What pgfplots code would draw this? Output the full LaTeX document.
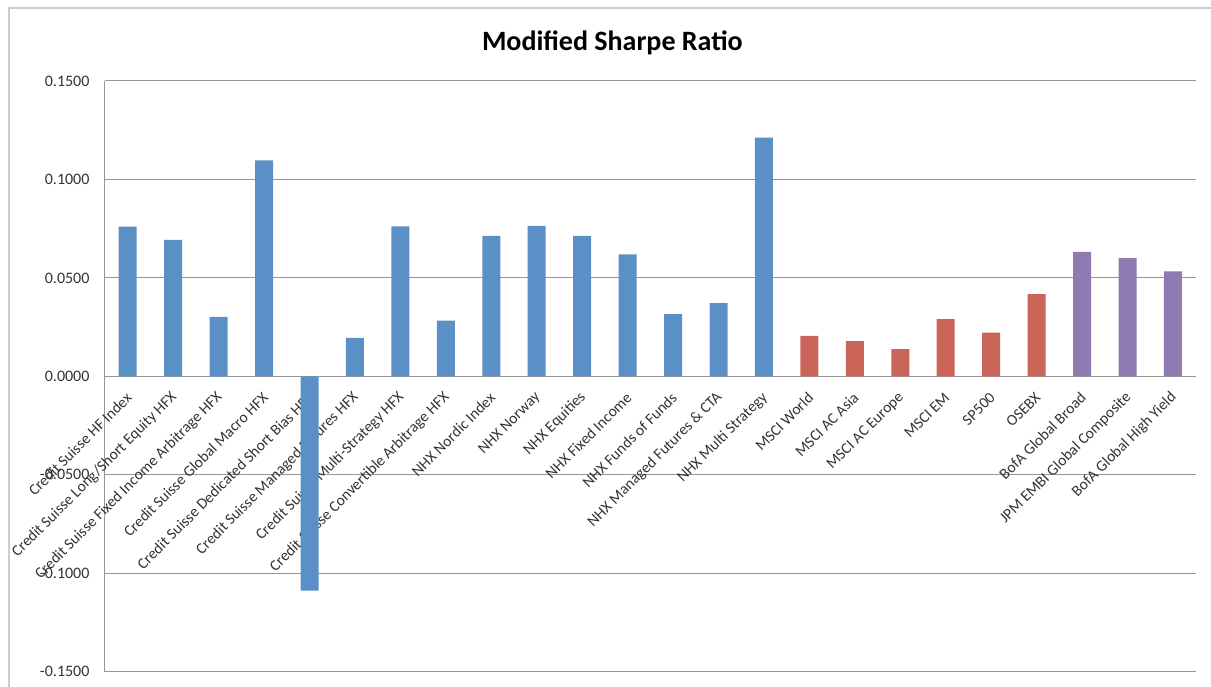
\documentclass[border=0pt]{standalone}
\usepackage{pgfplots}
\pgfplotsset{compat=1.18}
\usepackage{fontspec}
\setmainfont{Carlito}

\definecolor{barblue}{RGB}{91,144,198}
\definecolor{barred}{RGB}{203,100,89}
\definecolor{barpurple}{RGB}{143,122,178}
\definecolor{gridgray}{RGB}{150,150,150}
\definecolor{framegray}{RGB}{205,205,205}

% bars above the grid, axis lines and category names above the bars
\pgfplotsset{
  layers/bars below labels/.define layer set={
    axis background,axis grid,pre main,main,axis ticks,axis lines,
    axis tick labels,axis descriptions,axis foreground}{},
}

\begin{document}
\begin{tikzpicture}[x=1pt,y=1pt]
\begin{axis}[
  set layers=bars below labels,
  at={(0,0)}, anchor=south west,
  scale only axis, width=1090.7pt, height=590.7pt,
  xmin=-0.5, xmax=23.5,
  ymin=-0.15, ymax=0.15,
  ytick={-0.15,-0.1,-0.05,0,0.05,0.1,0.15},
  axis x line=middle, axis y line=left,
  axis line style={-, gridgray, line width=1pt},
  ymajorgrids, grid style={gridgray, line width=1pt},
  major tick length=0pt,
  ybar, bar width=18pt, bar shift=0pt,
  xtick={0,...,23},
  xticklabels={
    Credit Suisse HF Index,
    Credit Suisse Long/Short Equity HFX,
    Credit Suisse Fixed Income Arbitrage HFX,
    Credit Suisse Global Macro HFX,
    Credit Suisse Dedicated Short Bias HFX,
    Credit Suisse Managed Futures HFX,
    Credit Suisse Multi-Strategy HFX,
    Credit Suisse Convertible Arbitrage HFX,
    NHX Nordic Index,
    NHX Norway,
    NHX Equities,
    NHX Fixed Income,
    NHX Funds of Funds,
    NHX Managed Futures \& CTA,
    NHX Multi Strategy,
    MSCI World,
    MSCI AC Asia,
    MSCI AC Europe,
    MSCI EM,
    SP500,
    OSEBX,
    BofA Global Broad,
    JPM EMBI Global Composite,
    BofA Global High Yield},
  xticklabel style={xshift=2pt, yshift=-18pt, rotate=45, anchor=east, font=\fontsize{15.5}{17}\selectfont, text=black!80, inner sep=1pt},
  yticklabel style={font=\fontsize{16}{18}\selectfont, text=black!80, xshift=-12pt},
  /pgf/number format/.cd, fixed, fixed zerofill, precision=4, assume math mode=true,
  /pgfplots/.cd,
  title={\bfseries Modified Sharpe Ratio},
  title style={at={(0.5,1)}, anchor=center, xshift=-38pt, yshift=32pt, font=\fontsize{28}{32}\selectfont},
]
% hedge fund indices
\addplot[fill=barblue, draw=none] coordinates {
  (0,0.0760) (1,0.0693) (2,0.0302) (3,0.1097) (4,-0.1088) (5,0.0196)
  (6,0.0762) (7,0.0283) (8,0.0713) (9,0.0764) (10,0.0713) (11,0.0619)
  (12,0.0316) (13,0.0372) (14,0.1213)};
% equity indices
\addplot[fill=barred, draw=none] coordinates {
  (15,0.0206) (16,0.0179) (17,0.0138) (18,0.0290) (19,0.0222) (20,0.0418)};
% bond indices
\addplot[fill=barpurple, draw=none] coordinates {
  (21,0.0632) (22,0.0600) (23,0.0533)};
\end{axis}
% chart area frame
\draw[framegray, line width=2pt] (-96,-40) -- (-96,663.7) -- (1130,663.7);
\pgfresetboundingbox
\path (-105,-14.3) rectangle (1106,671.7);
\end{tikzpicture}
\end{document}
